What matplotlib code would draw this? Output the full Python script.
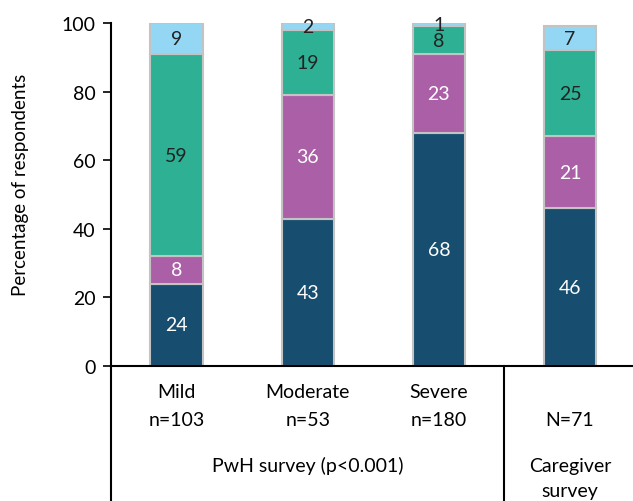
import matplotlib
matplotlib.use("Agg")
import matplotlib.pyplot as plt
import numpy as np

plt.rcParams['font.family'] = ['Lato', 'DejaVu Sans']

categories = ["Mild", "Moderate", "Severe", "Caregiver"]
counts = ["n=103", "n=53", "n=180", "N=71"]
seg1 = [24, 43, 68, 46]   # dark blue
seg2 = [8, 36, 23, 21]    # purple
seg3 = [59, 19, 8, 25]    # teal
seg4 = [9, 2, 1, 7]       # light blue
series = [seg1, seg2, seg3, seg4]
colors = ["#174d6e", "#ab5fa6", "#2db093", "#93d7f5"]
text_colors = ["white", "white", "#222222", "#222222"]

FS = 14
W, H = 633, 502
fig = plt.figure(figsize=(W/100, H/100), dpi=100)
ax = fig.add_axes([111/W, (H-367)/H, 1 - 111/W, 343/H])

x = np.arange(len(categories))
bottom = np.zeros(len(categories))
for vals, c, tc in zip(series, colors, text_colors):
    vals = np.array(vals, dtype=float)
    ax.bar(x, vals, bottom=bottom, width=0.4, color=c, edgecolor="#c3c3c3", linewidth=1.5, zorder=2)
    for xi, b, v in zip(x, bottom, vals):
        ax.text(xi, b + v/2, f"{int(v)}", ha="center", va="center", color=tc, fontsize=FS, zorder=3)
    bottom += vals

ax.set_xlim(-0.5, 3.48)
ax.set_ylim(0, 100)
ax.set_yticks([0, 20, 40, 60, 80, 100])
ax.tick_params(axis='y', labelsize=FS, direction='out', length=6, width=1.2, colors='black', pad=5)
ax.tick_params(axis='x', length=0, labelbottom=False)
for s in ['top', 'right']:
    ax.spines[s].set_visible(False)
ax.spines['left'].set_linewidth(1.5)
ax.spines['bottom'].set_linewidth(1.5)
ax.set_ylabel("Percentage of respondents", fontsize=FS - 0.5)
ax.yaxis.set_label_coords(-0.158, 0.53)

tr = ax.get_xaxis_transform()
for xi, cat, n in zip(x, categories, counts):
    if cat != "Caregiver":
        ax.text(xi, -0.073, cat, transform=tr, ha="center", va="center", fontsize=FS)
    ax.text(xi, -0.157, n, transform=tr, ha="center", va="center", fontsize=FS)
ax.text(1.0, -0.289, "PwH survey (p<0.001)", transform=tr, ha="center", va="center", fontsize=FS)
ax.text(3.0, -0.289, "Caregiver", transform=tr, ha="center", va="center", fontsize=FS)
ax.text(3.0, -0.364, "survey", transform=tr, ha="center", va="center", fontsize=FS)

for xv in [-0.5, 2.5]:
    ax.plot([xv, xv], [0, -0.45], transform=tr, color="black", linewidth=1.5, clip_on=False)

fig.savefig("out.png", dpi=100)
